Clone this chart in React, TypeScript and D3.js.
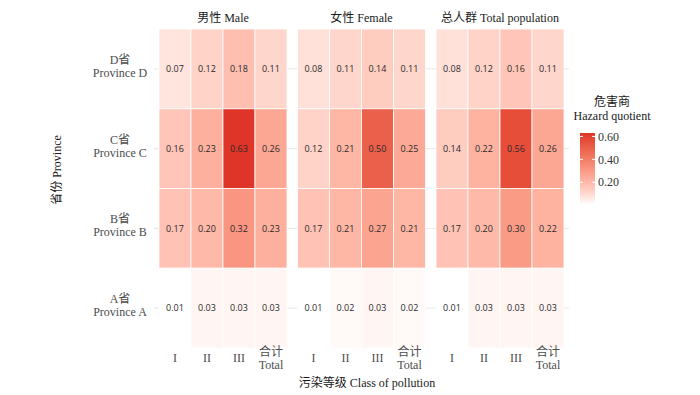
import React from "react";
import * as d3 from "d3";

const groups = ["男性 Male", "女性 Female", "总人群 Total population"];
const classLabels = [["I"], ["II"], ["III"], ["合计", "Total"]];
const provinces = ["D", "C", "B", "A"];
const provinceLabels = [
  ["D省", "Province D"],
  ["C省", "Province C"],
  ["B省", "Province B"],
  ["A省", "Province A"],
];
// rows in province order D, C, B, A; columns I, II, III, Total
const maleValues = [
  [0.07, 0.12, 0.18, 0.11],
  [0.16, 0.23, 0.63, 0.26],
  [0.17, 0.2, 0.32, 0.23],
  [0.01, 0.03, 0.03, 0.03],
];
const femaleValues = [
  [0.08, 0.11, 0.14, 0.11],
  [0.12, 0.21, 0.5, 0.25],
  [0.17, 0.21, 0.27, 0.21],
  [0.01, 0.02, 0.03, 0.02],
];
const totalValues = [
  [0.08, 0.12, 0.16, 0.11],
  [0.14, 0.22, 0.56, 0.26],
  [0.17, 0.2, 0.3, 0.22],
  [0.01, 0.03, 0.03, 0.03],
];
const legendTicks = [0.2, 0.4, 0.6];
const legendTitle = ["危害商", "Hazard quotient"];
const xTitle = "污染等级 Class of pollution";
const yTitle = "省份 Province";

const SERIF = "'Liberation Serif', 'Noto Sans CJK SC', serif";
const SANS = "'Open Sans', 'Noto Sans', sans-serif";

export default function App() {
  const W = 700;
  const H = 395;
  const allValues = [maleValues, femaleValues, totalValues];
  const flat = allValues.flat(2);
  const vMin = d3.min(flat) as number;
  const vMax = d3.max(flat) as number;
  const interp = d3.interpolateLab("#ffffff", "#df3428");
  const norm = d3.scalePow().exponent(0.8).domain([vMin, vMax]).range([0, 1]).clamp(true);
  const color = (v: number) => interp(norm(v));

  const panelX = d3.scaleBand<number>().domain([0, 1, 2]).range([159, 564]).paddingInner(0.076);
  const colX = d3.scaleBand<number>().domain([0, 1, 2, 3]).range([0, panelX.bandwidth()]);
  const rowY = d3.scaleBand<string>().domain(provinces).range([29, 348]);
  const expand = 5;

  // legend
  const legY = d3.scaleLinear().domain([vMin, vMax]).range([204, 133]);
  const legX0 = 580;
  const legW = 15;
  const stops = d3.range(0, 1.0001, 0.05).map((t) => ({
    off: t,
    c: color(vMin + t * (vMax - vMin)),
  }));

  return (
    <svg
      width={W}
      height={H}
      style={{ position: "absolute", left: 0, top: 0, background: "#fff" }}
    >
      <defs>
        <linearGradient id="legGrad" x1="0" y1="1" x2="0" y2="0">
          {stops.map((s, i) => (
            <stop key={i} offset={s.off} stopColor={s.c} />
          ))}
        </linearGradient>
      </defs>
      <rect width={W} height={H} fill="#fff" />

      {allValues.map((vals, gi) => {
        const px = panelX(gi) as number;
        return (
          <g key={gi}>
            {provinces.map((p) => (
              <line
                key={"g" + p}
                x1={px - expand}
                x2={px + panelX.bandwidth() + expand}
                y1={(rowY(p) as number) + rowY.bandwidth() / 2}
                y2={(rowY(p) as number) + rowY.bandwidth() / 2}
                stroke="#e6e6e6"
                strokeWidth={1}
              />
            ))}
            {vals.map((row, ri) =>
              row.map((v, ci) => (
                <rect
                  key={ri + "-" + ci}
                  x={px + (colX(ci) as number)}
                  y={rowY(provinces[ri]) as number}
                  width={colX.bandwidth()}
                  height={rowY.bandwidth()}
                  fill={color(v)}
                  stroke="#ffffff"
                  strokeOpacity={0.8}
                  strokeWidth={1}
                />
              ))
            )}
            {vals.map((row, ri) =>
              row.map((v, ci) => (
                <text
                  key={"t" + ri + "-" + ci}
                  x={px + (colX(ci) as number) + colX.bandwidth() / 2}
                  y={(rowY(provinces[ri]) as number) + rowY.bandwidth() / 2}
                  dy="0.35em"
                  textAnchor="middle"
                  fontFamily={SANS}
                  fontSize={9}
                  fill="#2a2a2a"
                >
                  {v.toFixed(2)}
                </text>
              ))
            )}
            <text
              x={px + panelX.bandwidth() / 2}
              y={22}
              textAnchor="middle"
              fontFamily={SERIF}
              fontSize={12}
              fill="#1a1a1a"
            >
              {groups[gi]}
            </text>
            {classLabels.map((lines, ci) => {
              const cx = px + (colX(ci) as number) + colX.bandwidth() / 2;
              const n = lines.length;
              return (
                <text
                  key={"x" + ci}
                  x={cx}
                  y={362 - (n - 1) * 6.5}
                  textAnchor="middle"
                  fontFamily={SERIF}
                  fontSize={12}
                  fill="#4d4d4d"
                >
                  {lines.map((l, li) => (
                    <tspan key={li} x={cx} dy={li === 0 ? 0 : 13}>
                      {l}
                    </tspan>
                  ))}
                </text>
              );
            })}
          </g>
        );
      })}

      {provinces.map((p, i) => {
        const cy = (rowY(p) as number) + rowY.bandwidth() / 2;
        return (
          <text
            key={"y" + p}
            x={120}
            y={cy - 5}
            textAnchor="middle"
            fontFamily={SERIF}
            fontSize={12}
            fill="#4d4d4d"
          >
            <tspan x={120} dy={0}>
              {provinceLabels[i][0]}
            </tspan>
            <tspan x={120} dy={13}>
              {provinceLabels[i][1]}
            </tspan>
          </text>
        );
      })}

      <text
        x={367}
        y={387}
        textAnchor="middle"
        fontFamily={SERIF}
        fontSize={12}
        fill="#1a1a1a"
      >
        {xTitle}
      </text>
      <text
        transform="translate(61,170) rotate(-90)"
        textAnchor="middle"
        fontFamily={SERIF}
        fontSize={12}
        fill="#1a1a1a"
      >
        {yTitle}
      </text>

      <text x={612} y={106} textAnchor="middle" fontFamily={SERIF} fontSize={12} fill="#1a1a1a">
        {legendTitle[0]}
      </text>
      <text x={612} y={120} textAnchor="middle" fontFamily={SERIF} fontSize={12} fill="#1a1a1a">
        {legendTitle[1]}
      </text>
      <rect
        x={legX0}
        y={legY(vMax)}
        width={legW}
        height={legY(vMin) - legY(vMax)}
        fill="url(#legGrad)"
      />
      {legendTicks.map((t) => (
        <g key={t}>
          <line x1={legX0} x2={legX0 + 3} y1={legY(t)} y2={legY(t)} stroke="#fff" strokeWidth={1} />
          <line
            x1={legX0 + legW - 3}
            x2={legX0 + legW}
            y1={legY(t)}
            y2={legY(t)}
            stroke="#fff"
            strokeWidth={1}
          />
          <text
            x={legX0 + legW + 3}
            y={legY(t)}
            dy="0.35em"
            fontFamily={SERIF}
            fontSize={12}
            fill="#333"
          >
            {t.toFixed(2)}
          </text>
        </g>
      ))}
    </svg>
  );
}
